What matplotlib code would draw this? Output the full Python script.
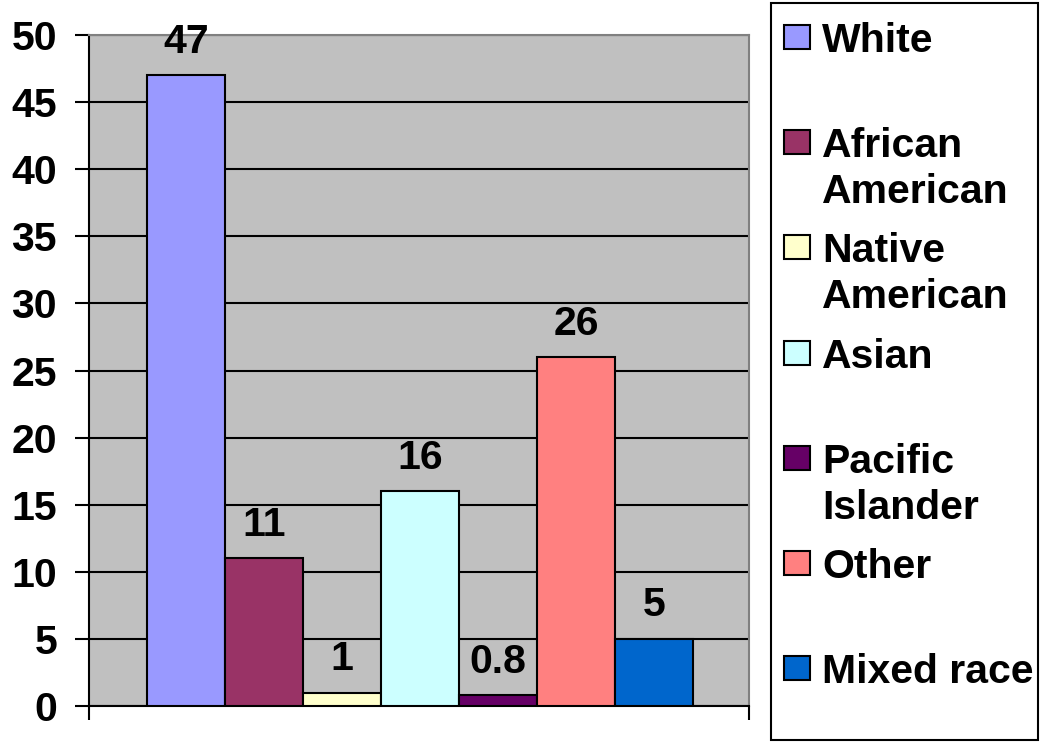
import matplotlib
matplotlib.use("Agg")
import matplotlib.pyplot as plt
import numpy as np
from matplotlib.patches import Rectangle

# data
groups = ["White", "African\nAmerican", "Native\nAmerican", "Asian",
          "Pacific\nIslander", "Other", "Mixed race"]
values = [47, 11, 1, 16, 0.8, 26, 5]
value_labels = ["47", "11", "1", "16", "0.8", "26", "5"]
colors = ["#9999FF", "#993366", "#FFFFCC", "#CCFFFF", "#660066", "#FF8080", "#0066CC"]
yticks = [0, 5, 10, 15, 20, 25, 30, 35, 40, 45, 50]

plt.rcParams['font.family'] = ['Liberation Sans', 'DejaVu Sans']
plt.rcParams['font.weight'] = 'bold'
FS = 29.5

W, H = 1040, 742
fig = plt.figure(figsize=(W / 100, H / 100), dpi=100)
ax = fig.add_axes([89 / W, 1 - 706 / H, (749 - 89) / W, (706 - 35) / H])
ax.set_facecolor("#C0C0C0")

x = np.arange(len(values))
ax.set_axisbelow(True)
ax.yaxis.grid(True, color="black", linewidth=1.5)
bars = ax.bar(x, values, width=1.0, color=colors, edgecolor="black", linewidth=1.5, zorder=3)

for xi, v, lab in zip(x, values, value_labels):
    ax.annotate(lab, (xi, v), xytext=(0, 27), textcoords="offset points",
                ha="center", va="center_baseline", fontsize=FS, fontweight="bold", zorder=4)

ax.set_ylim(0, 50)
ax.set_xlim(-1.244, 7.218)
ax.set_yticks(yticks)
ax.set_yticklabels([str(t) for t in yticks], fontsize=FS, fontweight="bold")
ax.set_xticks(ax.get_xlim())
ax.set_xticklabels(["", ""])
ax.tick_params(axis="both", direction="out", length=10, width=1.5, color="black")
ax.tick_params(axis="y", pad=13)

for s in ["left", "bottom"]:
    ax.spines[s].set_color("black")
    ax.spines[s].set_linewidth(1.5)
for s in ["top", "right"]:
    ax.spines[s].set_color("#808080")
    ax.spines[s].set_linewidth(1.5)

# legend drawn by hand so the swatch sits beside the first line
fig.patches.append(Rectangle((771 / W, 1 - 740 / H), (1038 - 771) / W, (740 - 3) / H,
                             transform=fig.transFigure, facecolor="white",
                             edgecolor="black", linewidth=1.5))
for i, (g, c) in enumerate(zip(groups, colors)):
    yc = 37 + 105.2 * i
    fig.patches.append(Rectangle((784 / W, 1 - (yc + 12) / H), 26 / W, 24 / H,
                                 transform=fig.transFigure, facecolor=c,
                                 edgecolor="black", linewidth=1.5))
    for j, line in enumerate(g.split("\n")):
        fig.text(822 / W, 1 - (yc + 46 * j) / H, line, ha="left", va="center_baseline",
                 fontsize=FS, fontweight="bold")

fig.savefig("out.png", dpi=100)
